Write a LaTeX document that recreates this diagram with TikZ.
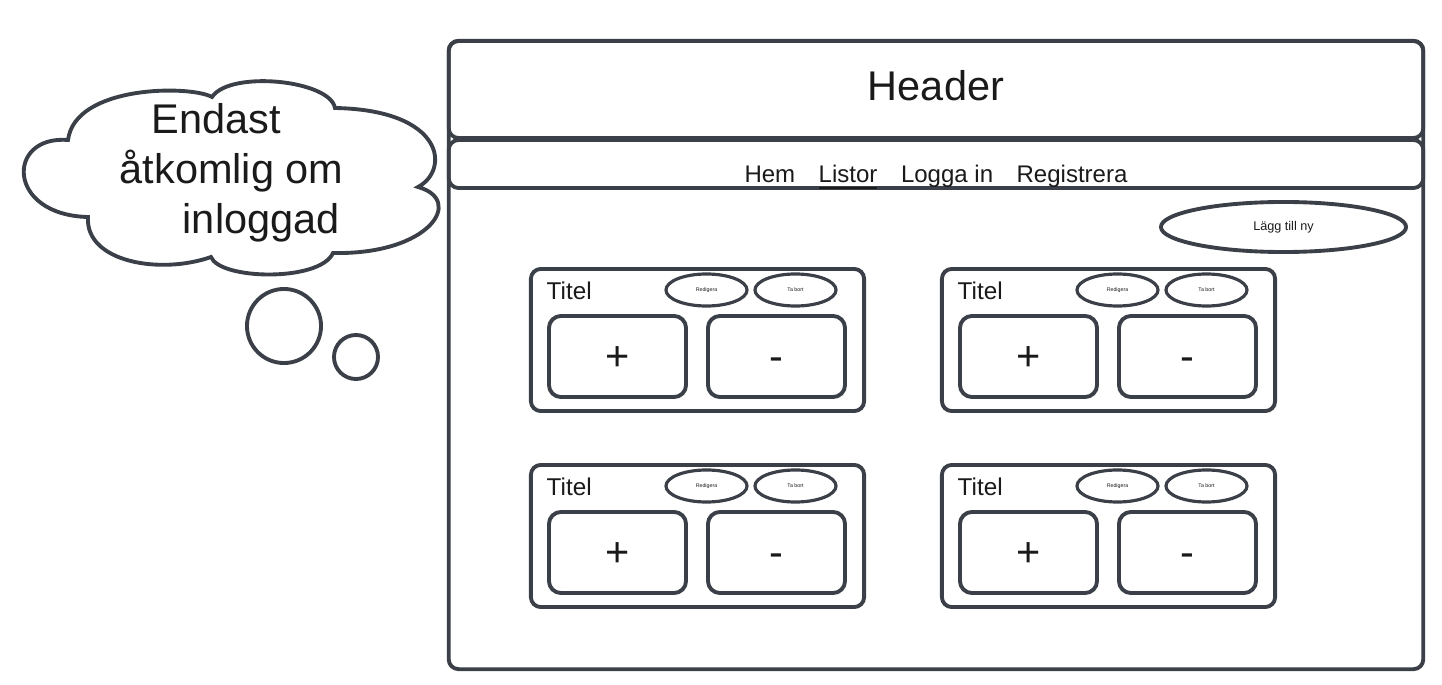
\documentclass[tikz,border=0pt]{standalone}
\usepackage{fontspec}
\setmainfont{Liberation Sans}
\usetikzlibrary{shapes.geometric}
\definecolor{wfgray}{RGB}{59,64,72}
\definecolor{wftext}{RGB}{26,26,26}

\begin{document}
\begin{tikzpicture}[x=0.01cm, y=-0.01cm,
  wbox/.style={draw=wfgray, line width=1.1pt, rounded corners=2.8pt, inner sep=0pt, text=wftext},
  wbtn/.style={draw=wfgray, line width=0.9pt, ellipse, inner sep=0pt, text=wftext},
  bigtext/.style={font=\fontsize{11.8}{14.2}\selectfont, text height=0.6em, text depth=0pt},
  midtext/.style={font=\fontsize{6.9}{8.3}\selectfont}]
\useasboundingbox (0,0) rectangle (1442,685);
% Page frame, header and menu
\node[wbox, minimum width=9.74cm, minimum height=6.28cm] (frame) at (936,355) {};
\node[wbox, bigtext, minimum width=9.74cm, minimum height=0.97cm] (header) at (936,89.5) {Header};
\node[wbox, minimum width=9.74cm, minimum height=0.48cm] (menu) at (936,164) {};
\node[anchor=base, text=wftext, font=\fontsize{6.83}{8.2}\selectfont] (menulinks) at (936,183)
  {Hem\hspace{0.235cm}\underline{Listor}\hspace{0.235cm}Logga in\hspace{0.235cm}Registrera};
% Add button
\node[wbtn, line width=1.1pt, minimum width=2.45cm, minimum height=0.50cm, font=\fontsize{3.6}{4.3}\selectfont] (addnew) at (1283.5,227) {Lägg till ny};
% List cards
\foreach \i/\ox/\oy in {1/0/0, 2/411/0, 3/0/196, 4/411/196} {
  \node[wbox, minimum width=3.33cm, minimum height=1.42cm] (card\i) at ({697.5+\ox},{340+\oy}) {};
  \node[anchor=base west, midtext, text=wftext, inner sep=0pt] (title\i) at ({546+\ox},{299+\oy}) {Titel};
  \node[wbtn, minimum width=0.81cm, minimum height=0.32cm, font=\fontsize{1.5}{1.8}\selectfont] (edit\i) at ({706.5+\ox},{290+\oy}) {Redigera};
  \node[wbtn, minimum width=0.81cm, minimum height=0.32cm, font=\fontsize{1.5}{1.8}\selectfont] (remove\i) at ({795.5+\ox},{290+\oy}) {Ta bort};
  \node[wbox, bigtext, text height=0.8em, rounded corners=3.4pt, minimum width=1.37cm, minimum height=0.81cm] (plus\i) at ({617.5+\ox},{356.5+\oy}) {+};
  \node[wbox, bigtext, text height=0.8em, rounded corners=3.4pt, minimum width=1.37cm, minimum height=0.81cm] (minus\i) at ({776.5+\ox},{356.5+\oy}) {-};
}
% Thought cloud
\draw[wfgray, line width=1.1pt] (68,140) .. controls (6,135) and (6,215) .. (88,217)
  .. controls (85,262) and (160,275) .. (211,257)
  .. controls (220,280) and (320,282) .. (333,253)
  .. controls (430,255) and (465,200) .. (418,187)
  .. controls (450,170) and (445,110) .. (335,108)
  .. controls (330,80) and (230,70) .. (212,97)
  .. controls (190,85) and (75,85) .. cycle;
\node[anchor=west, align=left, font=\fontsize{11.8}{14.2}\selectfont, text=wftext, inner sep=0pt] (note) at (119,172.5)
  {\hspace*{0.32cm}Endast\\åtkomlig om\\\hspace*{0.63cm}inloggad};
\node[draw=wfgray, line width=1.1pt, circle, minimum size=0.74cm] (bubblebig) at (284,326) {};
\node[draw=wfgray, line width=1.1pt, circle, minimum size=0.44cm] (bubblesmall) at (356,357) {};
\end{tikzpicture}
\end{document}
